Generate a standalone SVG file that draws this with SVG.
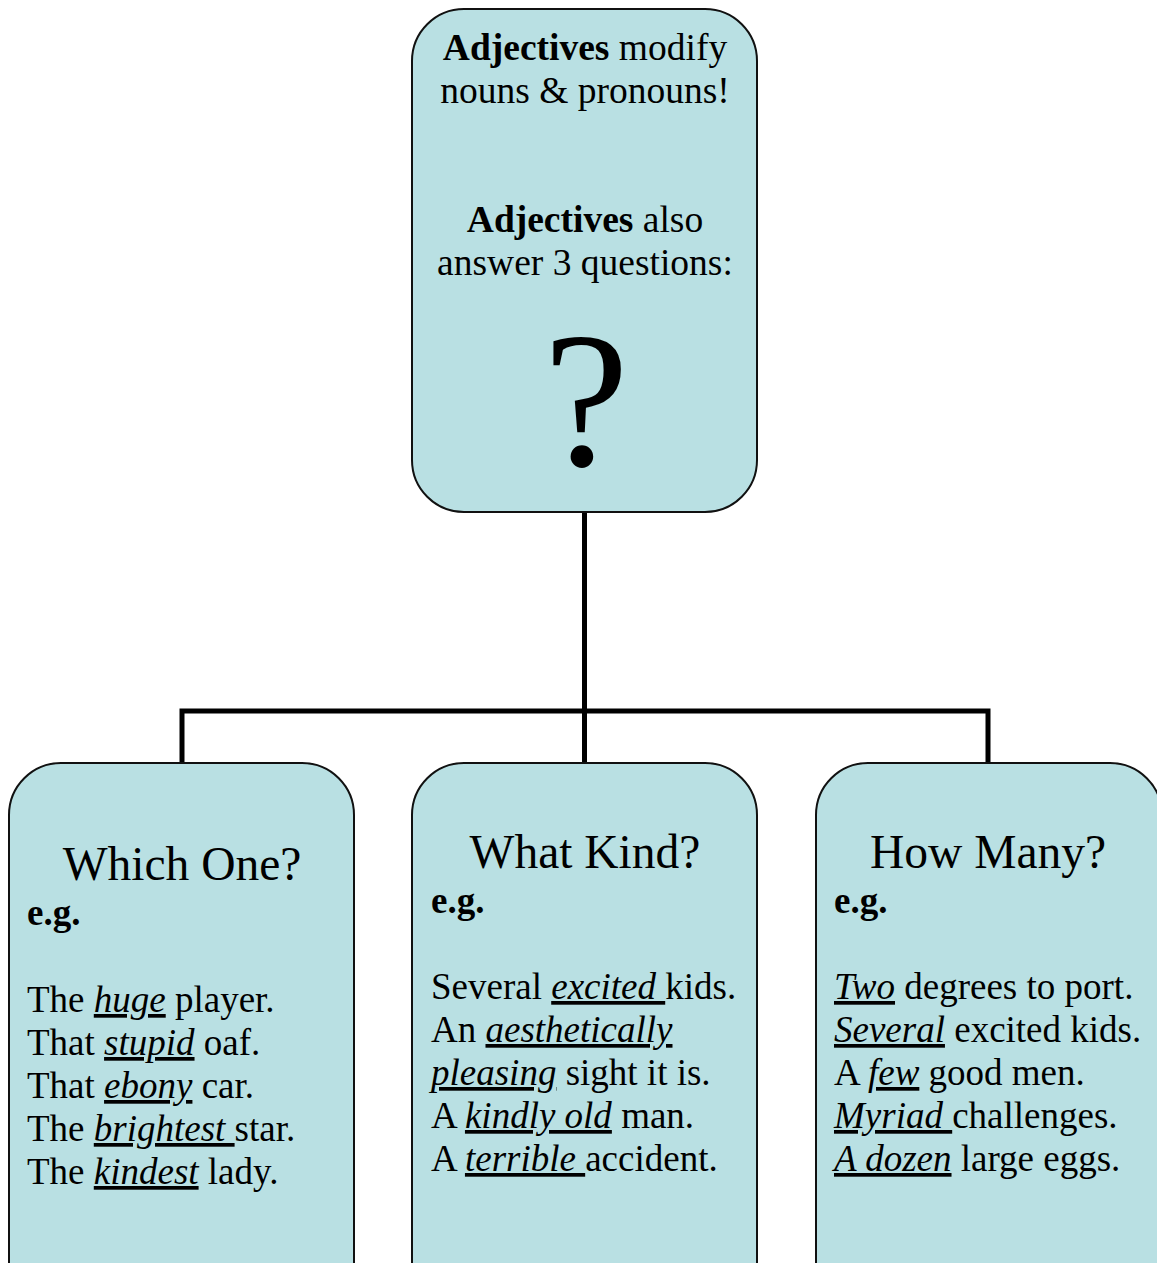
<svg xmlns="http://www.w3.org/2000/svg" width="1157" height="1263" viewBox="0 0 1157 1263">
<style>
.box{fill:#B9E0E3;stroke:#111;stroke-width:2}
.conn{fill:none;stroke:#000;stroke-width:5}
text{font-family:"Liberation Serif","Times New Roman",serif;fill:#000}
.t{font-size:37.5px;text-anchor:middle}
.h{font-size:47.5px;text-anchor:middle}
.eg{font-size:37px;font-weight:bold}
.ex{font-size:37px}
.u{font-style:italic;text-decoration:underline}
</style>
<rect width="1157" height="1263" fill="#fff"/>
<g id="connectors">
<path class="conn" d="M584.5 512 V763 M182 763 V711 H988 V763"/>
</g>
<g id="node-top">
<rect class="box" x="412" y="9" width="345" height="503" rx="52" ry="52"/>
<text class="t" x="585" y="60"><tspan font-weight="bold">Adjectives</tspan> modify</text>
<text class="t" x="585" y="103">nouns &amp; pronouns!</text>
<text class="t" x="585" y="232"><tspan font-weight="bold">Adjectives</tspan> also</text>
<text class="t" x="585" y="275">answer 3 questions:</text>
<text x="586" y="465" text-anchor="middle" font-size="192">?</text>
</g>
<g id="node-which-one">
<rect class="box" x="9" y="763" width="345" height="560" rx="52" ry="52"/>
<text class="h" x="182" y="880">Which One?</text>
<text class="eg" x="27" y="925">e.g.</text>
<text class="ex" x="27" y="1012">The <tspan class="u">huge</tspan> player.</text>
<text class="ex" x="27" y="1055">That <tspan class="u">stupid</tspan> oaf.</text>
<text class="ex" x="27" y="1098">That <tspan class="u">ebony</tspan> car.</text>
<text class="ex" x="27" y="1141">The <tspan class="u">brightest </tspan>star.</text>
<text class="ex" x="27" y="1184">The <tspan class="u">kindest</tspan> lady.</text>
</g>
<g id="node-what-kind">
<rect class="box" x="412" y="763" width="345" height="560" rx="52" ry="52"/>
<text class="h" x="585" y="868">What Kind?</text>
<text class="eg" x="431" y="913">e.g.</text>
<text class="ex" x="431" y="999">Several <tspan class="u">excited </tspan>kids.</text>
<text class="ex" x="431" y="1042">An <tspan class="u">aesthetically</tspan></text>
<text class="ex" x="431" y="1085"><tspan class="u">pleasing</tspan> sight it is.</text>
<text class="ex" x="431" y="1128">A <tspan class="u">kindly old</tspan> man.</text>
<text class="ex" x="431" y="1171">A <tspan class="u">terrible </tspan>accident.</text>
</g>
<g id="node-how-many">
<rect class="box" x="816" y="763" width="346" height="560" rx="52" ry="52"/>
<text class="h" x="988" y="868">How Many?</text>
<text class="eg" x="834" y="913">e.g.</text>
<text class="ex" x="834" y="999"><tspan class="u">Two</tspan> degrees to port.</text>
<text class="ex" x="834" y="1042"><tspan class="u">Several</tspan> excited kids.</text>
<text class="ex" x="834" y="1085">A <tspan class="u">few</tspan> good men.</text>
<text class="ex" x="834" y="1128"><tspan class="u">Myriad </tspan>challenges.</text>
<text class="ex" x="834" y="1171"><tspan class="u">A dozen</tspan> large eggs.</text>
</g>
</svg>
